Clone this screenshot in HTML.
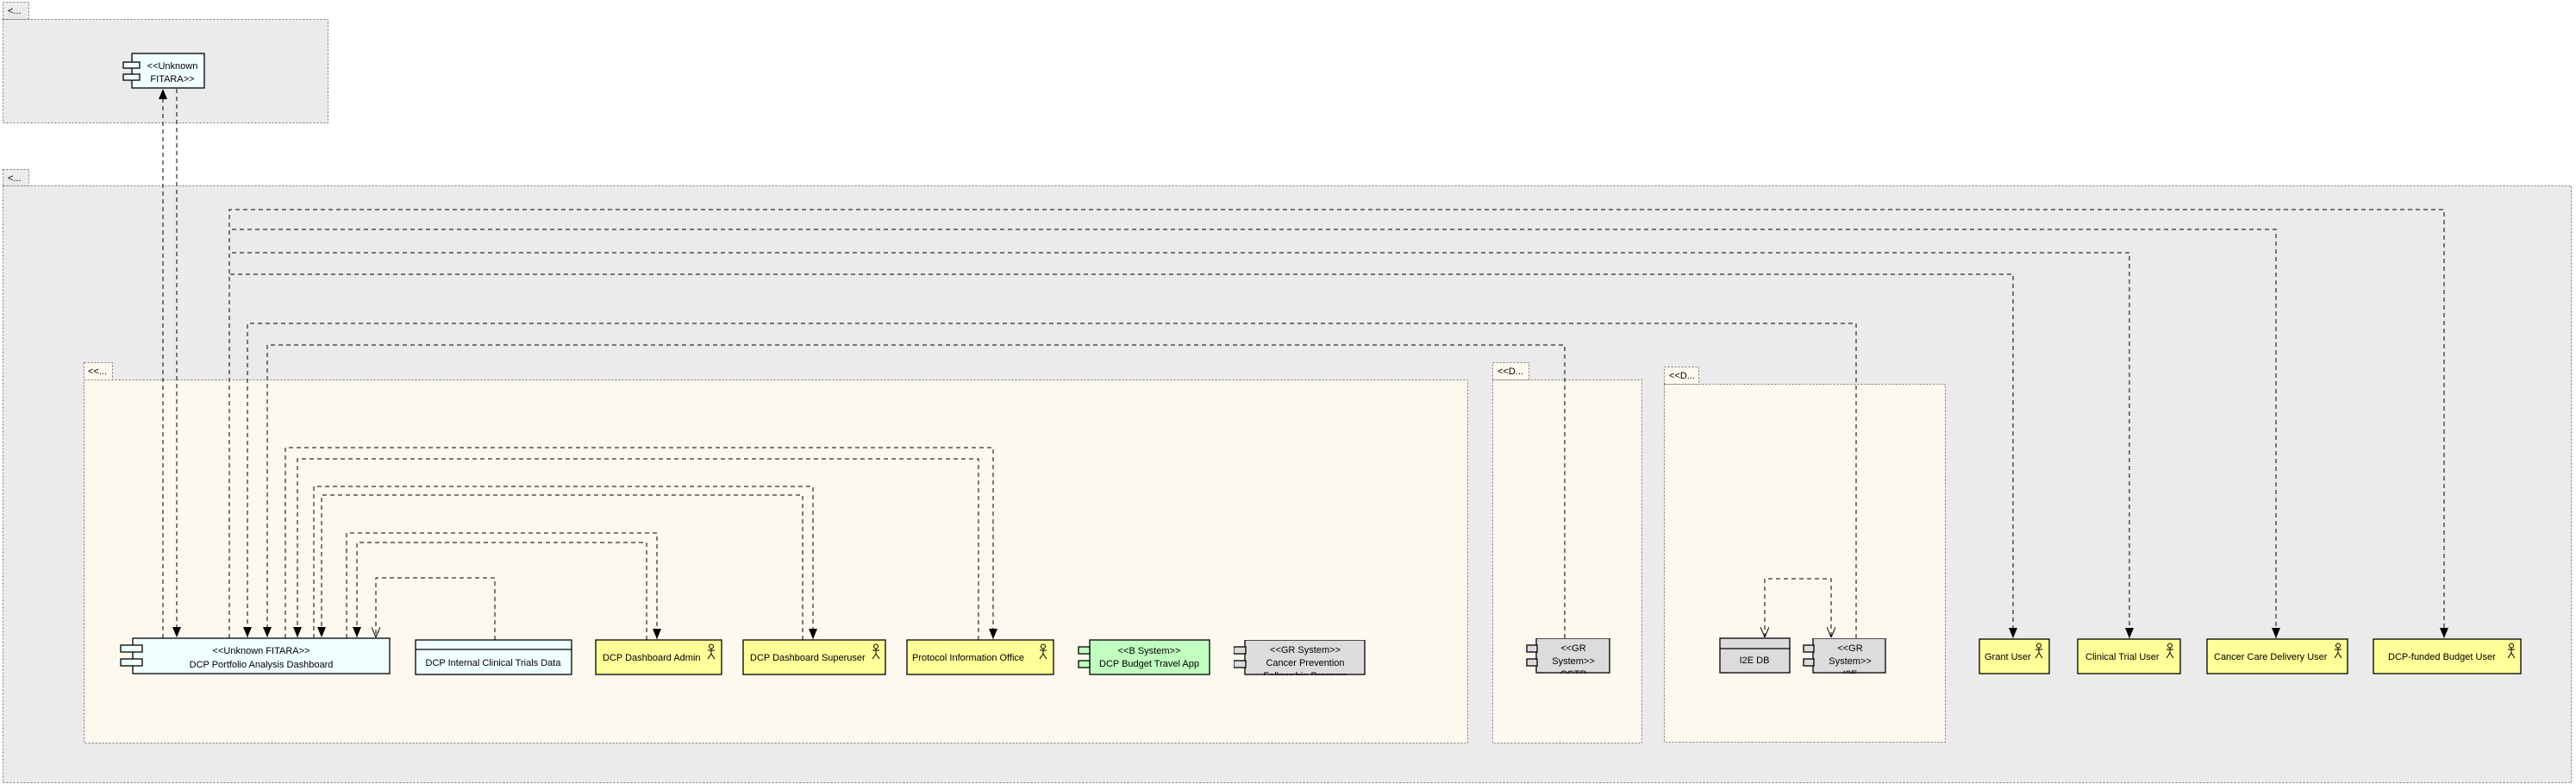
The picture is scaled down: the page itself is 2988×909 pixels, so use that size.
<!DOCTYPE html>
<html><head><meta charset="utf-8"><style>
html,body{margin:0;padding:0;background:#fff;}
svg{display:block;font-family:"Liberation Sans",Arial,sans-serif;font-size:11px;}
</style></head><body>
<svg width="2988" height="909" viewBox="0 0 2988 909" xmlns="http://www.w3.org/2000/svg">
<defs>
<marker id="a" markerWidth="12" markerHeight="10" refX="12" refY="5" orient="auto-start-reverse" markerUnits="userSpaceOnUse" viewBox="0 0 12 10"><path d="M0,0 L12,5 L0,10 z" fill="#000"/></marker>
<marker id="o" markerWidth="12" markerHeight="10" refX="12" refY="5" orient="auto-start-reverse" markerUnits="userSpaceOnUse" viewBox="0 0 12 10"><path d="M0,0 L12,5 L0,10" fill="none" stroke="#000"/></marker>
<g id="actor" fill="none" stroke="#000" stroke-width="1"><circle cx="0" cy="2.5" r="2.5"/><line x1="0" y1="5" x2="0" y2="11"/><line x1="-4" y1="7" x2="4" y2="7"/><line x1="0" y1="11" x2="-4" y2="17"/><line x1="0" y1="11" x2="4" y2="17"/></g>
</defs>
<g stroke="#777" stroke-dasharray="2,2" stroke-width="1">
<rect x="3.5" y="2.5" width="30" height="20" fill="#ebebeb"/>
<rect x="3.5" y="22.5" width="377" height="120" fill="#ebebeb"/>
<rect x="3.5" y="196.5" width="30" height="19" fill="#ebebeb"/>
<rect x="3.5" y="215.5" width="2979" height="692" fill="#ebebeb"/>
<rect x="97.5" y="420.5" width="33" height="20" fill="#fdf9ee"/>
<rect x="97.5" y="440.5" width="1605" height="421" fill="#fdf9ee"/>
<rect x="1731.5" y="420.5" width="42" height="20" fill="#fdf9ee"/>
<rect x="1731.5" y="440.5" width="173" height="421" fill="#fdf9ee"/>
<rect x="1930.5" y="425.5" width="40" height="20" fill="#fdf9ee"/>
<rect x="1930.5" y="445.5" width="326" height="415" fill="#fdf9ee"/>
</g>
<g fill="#000">
<text x="9" y="16">&lt;...</text>
<text x="9" y="210">&lt;...</text>
<text x="102" y="434">&lt;&lt;...</text>
<text x="1737" y="434">&lt;&lt;D...</text>
<text x="1936" y="439">&lt;&lt;D...</text>
</g>
<g fill="none" stroke="#000" stroke-width="1" stroke-dasharray="5,4">
<path d="M189,740 V103" marker-end="url(#a)"/>
<path d="M205,103 V739" marker-end="url(#a)"/>
<path d="M266,740 V243 H2835 V740" marker-end="url(#a)"/>
<path d="M266,740 V266 H2640 V740" marker-end="url(#a)"/>
<path d="M266,740 V293 H2470 V740" marker-end="url(#a)"/>
<path d="M266,740 V318 H2335 V740" marker-end="url(#a)"/>
<path d="M2153,740 V375 H287 V739" marker-end="url(#a)"/>
<path d="M1815,740 V400 H310 V739" marker-end="url(#a)"/>
<path d="M331,740 V519 H1152 V741" marker-end="url(#a)"/>
<path d="M1135,742 V532 H345 V739" marker-end="url(#a)"/>
<path d="M364,740 V564 H943 V741" marker-end="url(#a)"/>
<path d="M931,742 V574 H373 V739" marker-end="url(#a)"/>
<path d="M402,740 V618 H762 V741" marker-end="url(#a)"/>
<path d="M750,742 V629 H414 V739" marker-end="url(#a)"/>
<path d="M574,742 V670 H436 V739" marker-end="url(#o)"/>
<path d="M2047,739 V671 H2124 V739" marker-start="url(#o)" marker-end="url(#o)"/>
</g>
<g stroke="#000" stroke-width="1.3">
<rect x="153" y="62" width="84" height="40" fill="#f0ffff"/>
<rect x="143" y="72" width="19" height="7" fill="#f0ffff"/>
<rect x="143" y="86" width="19" height="7" fill="#f0ffff"/>
</g>
<text x="200" y="80" text-anchor="middle">&lt;&lt;Unknown</text>
<text x="200" y="95" text-anchor="middle">FITARA&gt;&gt;</text>
<g stroke="#000" stroke-width="1.3">
<rect x="154" y="740" width="298" height="41" fill="#f0ffff"/>
<rect x="140" y="748" width="25" height="8" fill="#f0ffff"/>
<rect x="140" y="764" width="25" height="8" fill="#f0ffff"/>
</g>
<text x="303" y="758" text-anchor="middle">&lt;&lt;Unknown FITARA&gt;&gt;</text>
<text x="303" y="774" text-anchor="middle">DCP Portfolio Analysis Dashboard</text>
<g stroke="#000" stroke-width="1.3" fill="#f0ffff">
<rect x="482" y="742" width="181" height="40"/>
<line x1="482" y1="753" x2="663" y2="753"/>
</g>
<text x="572" y="772" text-anchor="middle">DCP Internal Clinical Trials Data</text>
<g stroke="#000" stroke-width="1.3" fill="#ffff99">
<rect x="691" y="742" width="146" height="40"/>
<rect x="862" y="742" width="165" height="40"/>
<rect x="1052" y="742" width="170" height="40"/>
<rect x="2296" y="741" width="81" height="40"/>
<rect x="2410" y="741" width="119" height="40"/>
<rect x="2560" y="741" width="163" height="40"/>
<rect x="2753" y="741" width="171" height="40"/>
</g>
<use href="#actor" x="825" y="747"/>
<use href="#actor" x="1016" y="747"/>
<use href="#actor" x="1210" y="747"/>
<use href="#actor" x="2365" y="746"/>
<use href="#actor" x="2517" y="746"/>
<use href="#actor" x="2712" y="746"/>
<use href="#actor" x="2913" y="746"/>
<text x="699" y="766">DCP Dashboard Admin</text>
<text x="870" y="766">DCP Dashboard Superuser</text>
<text x="1058" y="766">Protocol Information Office</text>
<text x="2302" y="765">Grant User</text>
<text x="2419" y="765">Clinical Trial User</text>
<text x="2568" y="765">Cancer Care Delivery User</text>
<text x="2770" y="765">DCP-funded Budget User</text>
<g stroke="#000" stroke-width="1.3" fill="#c0ffc0">
<rect x="1264" y="742" width="139" height="40"/>
<rect x="1251" y="750" width="13" height="8"/>
<rect x="1251" y="766" width="13" height="8"/>
</g>
<text x="1333" y="758" text-anchor="middle">&lt;&lt;B System&gt;&gt;</text>
<text x="1333" y="773" text-anchor="middle">DCP Budget Travel App</text>
<svg x="1431" y="742" width="160" height="41" overflow="hidden">
<g stroke="#000" stroke-width="1.3" fill="#dcdcdc">
<rect x="13" y="0" width="139" height="40"/>
<rect x="0" y="8" width="14" height="8"/>
<rect x="0" y="24" width="14" height="8"/>
</g>
<text x="83" y="15" text-anchor="middle">&lt;&lt;GR System&gt;&gt;</text>
<text x="83" y="30" text-anchor="middle">Cancer Prevention</text>
<text x="83" y="45" text-anchor="middle">Fellowship Program</text>
</svg>
<svg x="1769" y="740" width="100" height="41" overflow="hidden">
<g stroke="#000" stroke-width="1.3" fill="#dcdcdc">
<rect x="13" y="0" width="85" height="40"/>
<rect x="2" y="8" width="12" height="8"/>
<rect x="2" y="24" width="12" height="8"/>
</g>
<text x="56" y="15" text-anchor="middle">&lt;&lt;GR</text>
<text x="56" y="30" text-anchor="middle">System&gt;&gt;</text>
<text x="56" y="45" text-anchor="middle">CCTR</text>
</svg>
<g stroke="#000" stroke-width="1.3" fill="#dcdcdc">
<rect x="1995" y="740" width="81" height="40"/>
<line x1="1995" y1="752" x2="2076" y2="752"/>
</g>
<text x="2035" y="769" text-anchor="middle">I2E DB</text>
<svg x="2090" y="740" width="100" height="41" overflow="hidden">
<g stroke="#000" stroke-width="1.3" fill="#dcdcdc">
<rect x="13" y="0" width="84" height="40"/>
<rect x="2" y="8" width="12" height="8"/>
<rect x="2" y="24" width="12" height="8"/>
</g>
<text x="56" y="15" text-anchor="middle">&lt;&lt;GR</text>
<text x="56" y="30" text-anchor="middle">System&gt;&gt;</text>
<text x="56" y="45" text-anchor="middle">I2E</text>
</svg>
</svg>
</body></html>
